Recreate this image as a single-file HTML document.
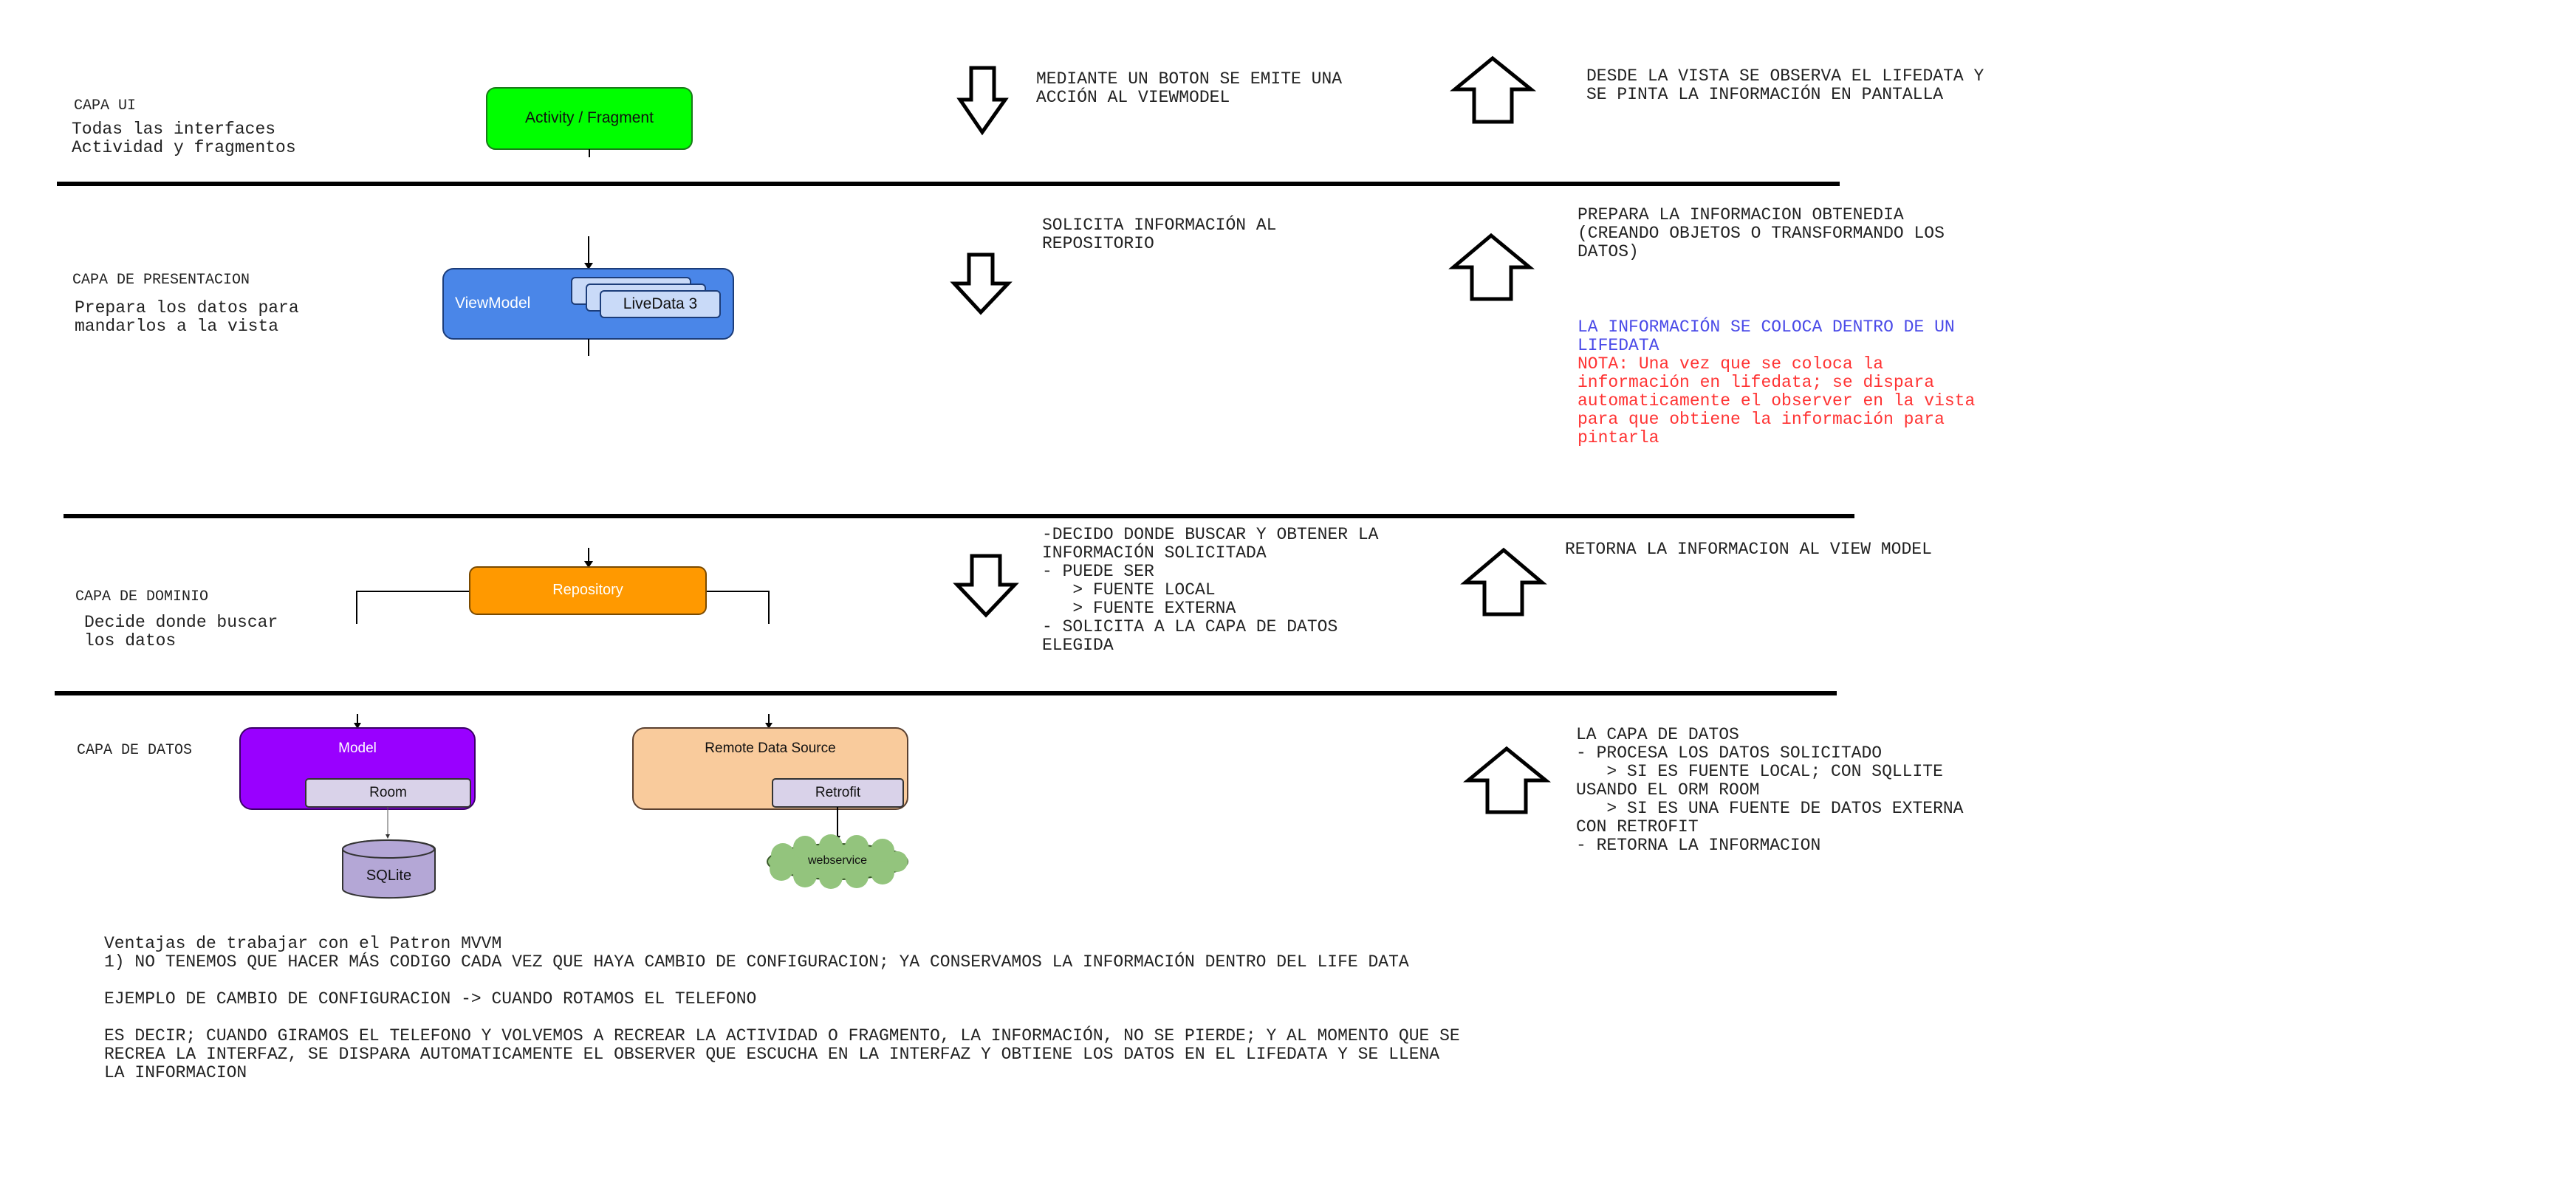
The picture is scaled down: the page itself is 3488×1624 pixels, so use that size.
<!DOCTYPE html>
<html><head><meta charset="utf-8"><style>
body{margin:0;width:3488px;height:1624px;background:#fff;position:relative;overflow:hidden}
.t{position:absolute;font-family:"Liberation Mono",monospace;font-size:23px;line-height:25px;color:#222;white-space:pre}
.s{font-size:20px}
.a{font-family:"Liberation Sans",sans-serif;position:absolute;white-space:pre}
</style></head><body>
<svg width="3488" height="1624" style="position:absolute;left:0;top:0">
<g stroke="#000" stroke-width="6">
<line x1="77" y1="249" x2="2491" y2="249"/>
<line x1="86" y1="699" x2="2511" y2="699"/>
<line x1="74" y1="939" x2="2487" y2="939"/>
</g>
<g fill="#fff" stroke="#000" stroke-width="5" stroke-linejoin="miter">
<polygon points="1315,92 1346,92 1346,135 1361,135 1330,179 1300,135 1315,135"/>
<polygon points="1312,345 1344,345 1344,384 1365,384 1328,423 1292,384 1312,384"/>
<polygon points="1316,753 1354,753 1354,792 1374,792 1335,833 1296,792 1316,792"/>
<polygon points="1996,165 2047,165 2047,121 2073,121 2021,79 1970,121 1996,121"/>
<polygon points="1993,405 2046,405 2046,362 2071,362 2019,319 1968,362 1993,362"/>
<polygon points="2010,832 2061,832 2061,789 2088,789 2036,745 1984,789 2010,789"/>
<polygon points="2014,1100 2066,1100 2066,1057 2093,1057 2040,1014 1988,1057 2014,1057"/>
</g>
<!-- activity -->
<rect x="659" y="119" width="278" height="83" rx="12" fill="#00ff00" stroke="#1a7a1a" stroke-width="2"/>
<line x1="798" y1="202" x2="798" y2="213" stroke="#000" stroke-width="2"/>
<!-- viewmodel -->
<line x1="797" y1="320" x2="797" y2="358" stroke="#000" stroke-width="2"/>
<polygon points="791,356 803,356 797,365" fill="#000"/>
<rect x="600" y="364" width="393" height="95" rx="14" fill="#4a86e8" stroke="#1c3d7a" stroke-width="2"/>
<line x1="797" y1="459" x2="797" y2="482" stroke="#000" stroke-width="2"/>
<rect x="774" y="376" width="161" height="36" rx="5" fill="#c9daf8" stroke="#1c3d7a" stroke-width="2"/>
<rect x="794" y="385" width="161" height="36" rx="5" fill="#c9daf8" stroke="#1c3d7a" stroke-width="2"/>
<rect x="813" y="394" width="162" height="36" rx="5" fill="#c9daf8" stroke="#1c3d7a" stroke-width="2"/>
<!-- repository -->
<line x1="797" y1="742" x2="797" y2="762" stroke="#000" stroke-width="2"/>
<polygon points="791,760 803,760 797,769" fill="#000"/>
<polyline points="483,845 483,801 636,801" fill="none" stroke="#000" stroke-width="2"/>
<polyline points="956,801 1041,801 1041,845" fill="none" stroke="#000" stroke-width="2"/>
<rect x="636" y="768" width="320" height="64" rx="10" fill="#ff9900" stroke="#7a4a00" stroke-width="2"/>
<!-- model -->
<line x1="484" y1="967" x2="484" y2="980" stroke="#000" stroke-width="2"/>
<polygon points="479,979 489,979 484,987" fill="#000"/>
<rect x="325" y="986" width="318" height="110" rx="16" fill="#9900ff" stroke="#3a0066" stroke-width="2"/>
<rect x="414" y="1055" width="223" height="38" rx="4" fill="#d9d2e9" stroke="#333" stroke-width="2"/>
<line x1="525" y1="1093" x2="525" y2="1132" stroke="#555" stroke-width="1"/>
<polygon points="522,1130 528,1130 525,1136" fill="#333"/>
<path d="M464,1150 L464,1204 A62,12 0 0 0 589,1204 L589,1150 A62,12 0 0 0 464,1150 Z" fill="#b4a7d6" stroke="#333" stroke-width="2"/>
<ellipse cx="526" cy="1150" rx="62" ry="12" fill="#b4a7d6" stroke="#333" stroke-width="2"/>
<!-- remote -->
<line x1="1041" y1="967" x2="1041" y2="980" stroke="#000" stroke-width="2"/>
<polygon points="1036,979 1046,979 1041,987" fill="#000"/>
<rect x="857" y="986" width="372" height="110" rx="16" fill="#f9cb9c" stroke="#5a4030" stroke-width="2"/>
<rect x="1046" y="1055" width="177" height="38" rx="4" fill="#d9d2e9" stroke="#333" stroke-width="2"/>
<line x1="1134" y1="1093" x2="1134" y2="1135" stroke="#000" stroke-width="2"/>
<polygon points="1130,1132 1138,1132 1134,1139" fill="#000"/>
<g fill="#93c47d" stroke="#3a5a2a" stroke-width="2">
<ellipse cx="1134" cy="1167" rx="95" ry="24"/>
</g>
<g fill="#93c47d">
<circle cx="1060" cy="1158" r="16"/><circle cx="1090" cy="1148" r="16"/><circle cx="1125" cy="1146" r="16"/><circle cx="1160" cy="1147" r="16"/><circle cx="1195" cy="1152" r="16"/><circle cx="1215" cy="1167" r="14"/><circle cx="1195" cy="1182" r="16"/><circle cx="1160" cy="1187" r="16"/><circle cx="1125" cy="1188" r="16"/><circle cx="1090" cy="1186" r="16"/><circle cx="1058" cy="1177" r="16"/>
</g>
</svg>
<div class="a" style="left:659px;top:148px;width:278px;text-align:center;font-size:21px;color:#111">Activity / Fragment</div>
<div class="a" style="left:616px;top:399px;font-size:21px;color:#fff">ViewModel</div>
<div class="a" style="left:813px;top:400px;width:162px;text-align:center;font-size:21px;color:#111">LiveData 3</div>
<div class="a" style="left:636px;top:788px;width:320px;text-align:center;font-size:20px;color:#fff">Repository</div>
<div class="a" style="left:325px;top:1003px;width:318px;text-align:center;font-size:19px;color:#fff">Model</div>
<div class="a" style="left:414px;top:1063px;width:223px;text-align:center;font-size:19px;color:#111">Room</div>
<div class="a" style="left:857px;top:1003px;width:372px;text-align:center;font-size:19px;color:#111">Remote Data Source</div>
<div class="a" style="left:1046px;top:1063px;width:177px;text-align:center;font-size:19px;color:#111">Retrofit</div>
<div class="a" style="left:464px;top:1175px;width:125px;text-align:center;font-size:20px;color:#111">SQLite</div>
<div class="a" style="left:1039px;top:1157px;width:190px;text-align:center;font-size:16px;color:#111">webservice</div>

<div class="t s" style="left:100px;top:131px">CAPA UI</div>
<div class="t" style="left:97px;top:163px">Todas las interfaces
Actividad y fragmentos</div>
<div class="t s" style="left:98px;top:367px">CAPA DE PRESENTACION</div>
<div class="t" style="left:101px;top:405px">Prepara los datos para
mandarlos a la vista</div>
<div class="t s" style="left:102px;top:796px">CAPA DE DOMINIO</div>
<div class="t" style="left:114px;top:831px">Decide donde buscar
los datos</div>
<div class="t s" style="left:104px;top:1004px">CAPA DE DATOS</div>

<div class="t" style="left:1403px;top:95px">MEDIANTE UN BOTON SE EMITE UNA
ACCIÓN AL VIEWMODEL</div>
<div class="t" style="left:2148px;top:91px">DESDE LA VISTA SE OBSERVA EL LIFEDATA Y
SE PINTA LA INFORMACIÓN EN PANTALLA</div>
<div class="t" style="left:1411px;top:293px">SOLICITA INFORMACIÓN AL
REPOSITORIO</div>
<div class="t" style="left:2136px;top:279px">PREPARA LA INFORMACION OBTENEDIA
(CREANDO OBJETOS O TRANSFORMANDO LOS
DATOS)</div>
<div class="t" style="left:2136px;top:431px;color:#4a4ae8">LA INFORMACIÓN SE COLOCA DENTRO DE UN
LIFEDATA</div>
<div class="t" style="left:2136px;top:481px;color:#ff3333">NOTA: Una vez que se coloca la
información en lifedata; se dispara
automaticamente el observer en la vista
para que obtiene la información para
pintarla</div>
<div class="t" style="left:1411px;top:712px">-DECIDO DONDE BUSCAR Y OBTENER LA
INFORMACIÓN SOLICITADA
- PUEDE SER
   &gt; FUENTE LOCAL
   &gt; FUENTE EXTERNA
- SOLICITA A LA CAPA DE DATOS
ELEGIDA</div>
<div class="t" style="left:2119px;top:732px">RETORNA LA INFORMACION AL VIEW MODEL</div>
<div class="t" style="left:2134px;top:983px">LA CAPA DE DATOS
- PROCESA LOS DATOS SOLICITADO
   &gt; SI ES FUENTE LOCAL; CON SQLLITE
USANDO EL ORM ROOM
   &gt; SI ES UNA FUENTE DE DATOS EXTERNA
CON RETROFIT
- RETORNA LA INFORMACION</div>
<div class="t" style="left:141px;top:1266px">Ventajas de trabajar con el Patron MVVM
1) NO TENEMOS QUE HACER MÁS CODIGO CADA VEZ QUE HAYA CAMBIO DE CONFIGURACION; YA CONSERVAMOS LA INFORMACIÓN DENTRO DEL LIFE DATA

EJEMPLO DE CAMBIO DE CONFIGURACION -&gt; CUANDO ROTAMOS EL TELEFONO

ES DECIR; CUANDO GIRAMOS EL TELEFONO Y VOLVEMOS A RECREAR LA ACTIVIDAD O FRAGMENTO, LA INFORMACIÓN, NO SE PIERDE; Y AL MOMENTO QUE SE
RECREA LA INTERFAZ, SE DISPARA AUTOMATICAMENTE EL OBSERVER QUE ESCUCHA EN LA INTERFAZ Y OBTIENE LOS DATOS EN EL LIFEDATA Y SE LLENA
LA INFORMACION</div>
</body></html>
